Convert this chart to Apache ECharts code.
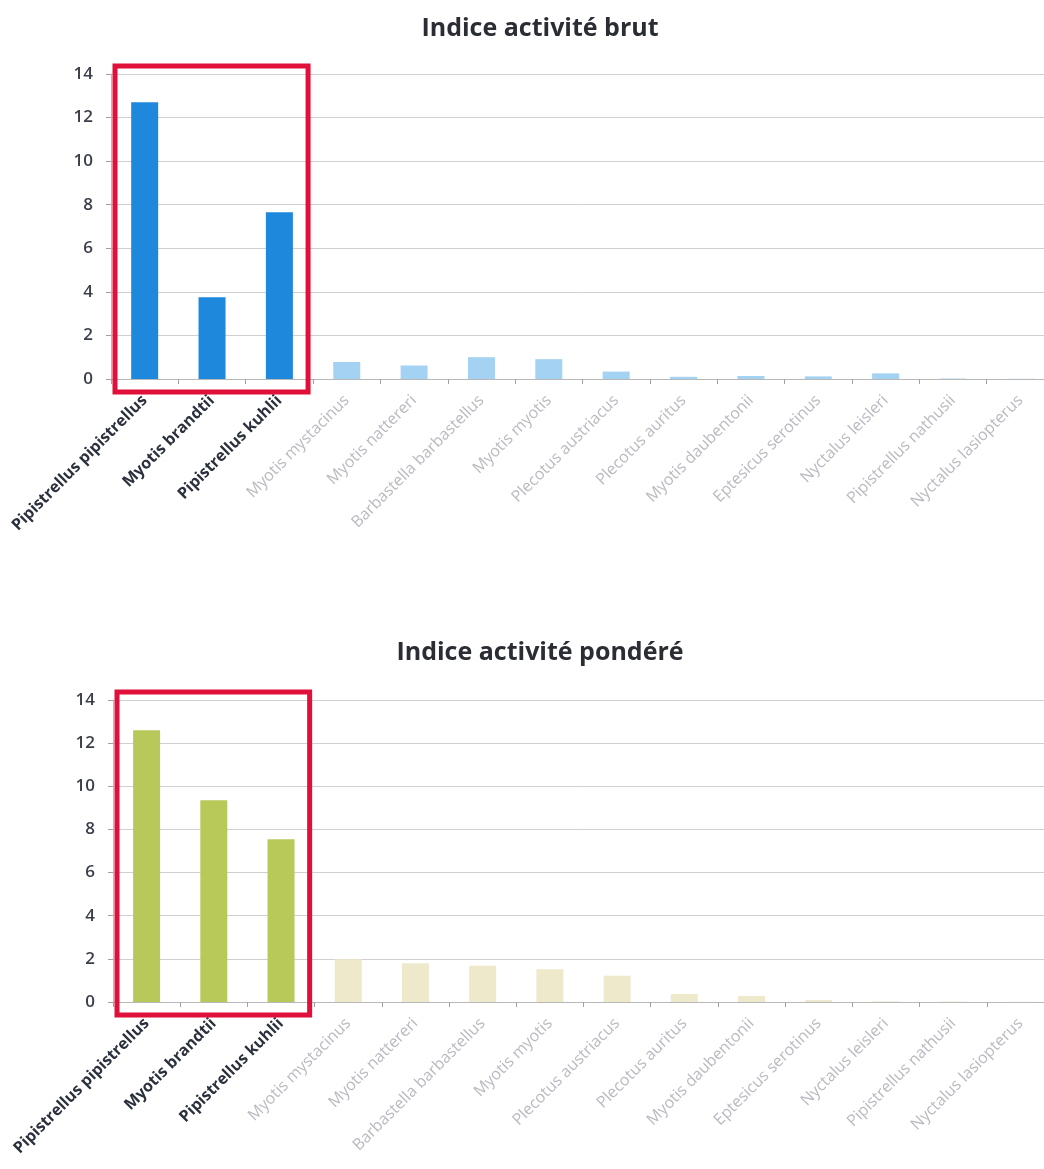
<!DOCTYPE html>
<html>
<head>
<meta charset="utf-8">
<script src="https://cdn.jsdelivr.net/npm/echarts@6/dist/echarts.min.js"></script>
<style>
  html, body { margin: 0; padding: 0; background: #fff; overflow: hidden; }
  #main { width: 1054px; height: 1169px; }
</style>
</head>
<body>
<div id="main"></div>
<script>
// especes (axe des x)
var especes = ['Pipistrellus pipistrellus', 'Myotis brandtii', 'Pipistrellus kuhlii', 'Myotis mystacinus',
    'Myotis nattereri', 'Barbastella barbastellus', 'Myotis myotis', 'Plecotus austriacus', 'Plecotus auritus',
    'Myotis daubentonii', 'Eptesicus serotinus', 'Nyctalus leisleri', 'Pipistrellus nathusii', 'Nyctalus lasiopterus'];
// indice brut
var indiceBrut = [12.7, 3.75, 7.65, 0.78, 0.62, 1.0, 0.91, 0.34, 0.1, 0.14, 0.12, 0.26, 0.02, 0.01];
// indice pondere
var indicePondere = [12.6, 9.35, 7.55, 1.98, 1.8, 1.68, 1.52, 1.22, 0.37, 0.28, 0.09, 0.03, 0.02, 0.01];
var titres = ['Indice activité brut', 'Indice activité pondéré'];
var nbMisEnAvant = 3;

var myChart = echarts.init(document.getElementById('main'));

function xAxe(idx) {
    return {
        type: 'category',
        gridIndex: idx,
        data: especes,
        axisLine: { lineStyle: { color: '#b8b8b8', width: 1 } },
        axisTick: { show: true, length: 5, lineStyle: { color: '#a0a0a0' } },
        axisLabel: {
            rotate: 45,
            margin: 19,
            interval: 0,
            formatter: function(v, i) {
                return i < nbMisEnAvant ? '{b|' + v + '}' : '{g|' + v + '}';
            },
            rich: {
                b: { fontFamily: 'Open Sans', fontSize: 16, fontWeight: 'bold', color: '#2a303c' },
                g: { fontFamily: 'Open Sans', fontSize: 16, color: '#b9b9c1' }
            }
        }
    };
}

function yAxe(idx) {
    return {
        type: 'value',
        gridIndex: idx,
        min: 0,
        max: 14,
        interval: 2,
        axisLine: { show: true, lineStyle: { color: '#b8b8b8' } },
        axisTick: { show: true, length: 5, lineStyle: { color: '#a0a0a0' } },
        axisLabel: { fontFamily: 'Open Sans', fontSize: 17, fontWeight: 600, color: '#3a3f4a', margin: 18 },
        splitLine: { lineStyle: { color: '#cfcfd4', width: 1 } }
    };
}

function serie(idx, data, fort, pale) {
    return {
        type: 'bar',
        xAxisIndex: idx,
        yAxisIndex: idx,
        data: data,
        barWidth: 27,
        itemStyle: {
            color: function(p) { return p.dataIndex < nbMisEnAvant ? fort : pale; }
        }
    };
}

var option = {
    animation: false,
    backgroundColor: '#fff',
    title: [{
        text: titres[0], left: 535, top: 11, textAlign: 'center',
        textStyle: { fontFamily: 'Open Sans', fontSize: 25, fontWeight: 'bold', color: '#2a2d33' }
    }, {
        text: titres[1], left: 535, top: 635, textAlign: 'center',
        textStyle: { fontFamily: 'Open Sans', fontSize: 25, fontWeight: 'bold', color: '#2a2d33' }
    }],
    grid: [
        { left: 111, right: 0, top: 74, height: 305 },
        { left: 113, right: 0, top: 700, height: 302 }
    ],
    xAxis: [xAxe(0), xAxe(1)],
    yAxis: [yAxe(0), yAxe(1)],
    series: [
        serie(0, indiceBrut, '#1e88dc', '#a3d2f3'),
        serie(1, indicePondere, '#b8c95a', '#efe9cc')
    ]
};
myChart.setOption(option);

// cadre rouge autour des especes mises en avant
function cadre(idx) {
    var g = { xAxisIndex: idx, yAxisIndex: idx };
    var p0 = myChart.convertToPixel(g, [0, 14]);
    var p2 = myChart.convertToPixel(g, [nbMisEnAvant - 1, 0]);
    var bande = myChart.convertToPixel(g, [1, 0])[0] - p0[0];
    var x1 = p0[0] - bande / 2 + 4;
    var x2 = p2[0] + bande / 2 - 5;
    return {
        type: 'rect',
        shape: { x: x1, y: p0[1] - 8, width: x2 - x1, height: p2[1] - p0[1] + 21 },
        style: { fill: null, stroke: '#e0103a', lineWidth: 5 },
        z: 100
    };
}
myChart.setOption({ graphic: [cadre(0), cadre(1)] });
</script>
</body>
</html>
